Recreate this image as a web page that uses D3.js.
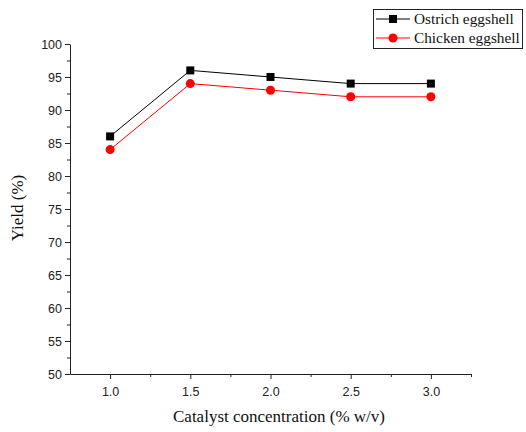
<!DOCTYPE html>
<meta charset="utf-8">
<style>
  body { margin: 0; background: #fff; }
  .axis text { font-family: "Liberation Sans", Arial, sans-serif; font-size: 12.5px; fill: #222; }
  .axis path, .axis line { stroke: #222; }
  .label { font-family: "Liberation Serif", "Times New Roman", serif; font-size: 17px; fill: #111; }
  .legend-text { font-family: "Liberation Serif", "Times New Roman", serif; font-size: 15.3px; fill: #111; }
</style>
<svg width="526" height="432"></svg>
<script src="https://d3js.org/d3.v7.min.js"></script>
<script>
var svg = d3.select("svg");

// data
var concentration = [1.0, 1.5, 2.0, 2.5, 3.0];
var ostrich = [86, 96, 95, 94, 94];
var chicken = [84, 94, 93, 92, 92];
var yTicks = [50, 55, 60, 65, 70, 75, 80, 85, 90, 95, 100];
var seriesNames = ["Ostrich eggshell", "Chicken eggshell"];

var x = d3.scaleLinear().domain([0.75, 3.25]).range([70, 471]);
var y = d3.scaleLinear().domain([50, 100]).range([374, 44]);

// minor ticks first
svg.append("g")
   .attr("class", "axis")
   .attr("transform", "translate(0,374)")
   .call(d3.axisBottom(x).tickValues(d3.range(1.25, 3.3, 0.5)).tickSize(3).tickFormat(""))
   .select(".domain").remove();
svg.append("g")
   .attr("class", "axis")
   .attr("transform", "translate(70,0)")
   .call(d3.axisLeft(y).tickValues(d3.range(52.5, 100, 5)).tickSize(3).tickFormat(""))
   .select(".domain").remove();

// major axes
svg.append("g")
   .attr("class", "axis")
   .attr("transform", "translate(0,374)")
   .call(d3.axisBottom(x).tickValues(concentration).tickSize(5).tickSizeOuter(0).tickPadding(8)
           .tickFormat(d3.format(".1f")));
svg.append("g")
   .attr("class", "axis")
   .attr("transform", "translate(70,0)")
   .call(d3.axisLeft(y).tickValues(yTicks).tickSize(5).tickSizeOuter(0).tickPadding(3));

svg.append("text").attr("class", "label")
   .attr("x", 279).attr("y", 422).attr("text-anchor", "middle")
   .text("Catalyst concentration (% w/v)");
svg.append("text").attr("class", "label")
   .attr("transform", "translate(23,208) rotate(-90)").attr("text-anchor", "middle")
   .text("Yield (%)");

var line = d3.line().x((d, i) => x(concentration[i])).y(d => y(d));

function drawSeries(values, color, shape) {
  svg.append("path").datum(values)
     .attr("fill", "none").attr("stroke", color).attr("stroke-width", 1)
     .attr("d", line);
  svg.append("g").selectAll().data(values).enter()
     .append("path")
     .attr("transform", (d, i) => "translate(" + x(concentration[i]) + "," + y(d) + ")")
     .attr("d", d3.symbol().type(shape).size(64))
     .attr("fill", color);
}
drawSeries(ostrich, "#000", d3.symbolSquare);
drawSeries(chicken, "#f00", d3.symbolCircle);

// legend
var legend = svg.append("g");
legend.append("rect").attr("x", 373.5).attr("y", 9.5).attr("width", 149).attr("height", 39)
      .attr("fill", "#fff").attr("stroke", "#222");
[["#000", d3.symbolSquare], ["#f00", d3.symbolCircle]].forEach(function(s, i) {
  var ly = 19 + i * 19;
  legend.append("line").attr("x1", 376).attr("x2", 410).attr("y1", ly).attr("y2", ly)
        .attr("stroke", s[0]);
  legend.append("path").attr("transform", "translate(393," + ly + ")")
        .attr("d", d3.symbol().type(s[1]).size(64)).attr("fill", s[0]);
  legend.append("text").attr("class", "legend-text").attr("x", 414).attr("y", ly + 5)
        .text(seriesNames[i]);
});
</script>
